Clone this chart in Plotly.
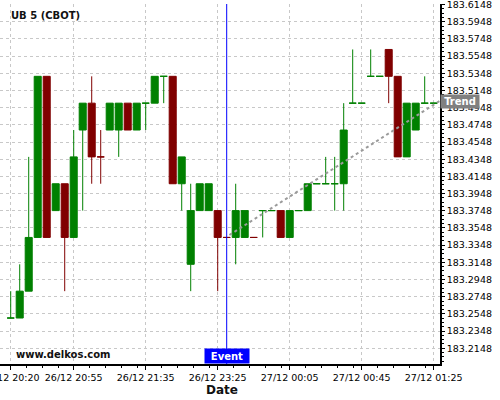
import plotly.graph_objects as go

# ---------------- data ----------------
candle_idx = list(range(48))
opens = [183.25, 183.25, 183.28125, 183.34375, 183.53125, 183.375, 183.40625, 183.34375,
         183.46875, 183.5, 183.4375, 183.46875, 183.46875, 183.5, 183.46875, 183.5,
         183.5, 183.53125, 183.53125, 183.40625, 183.3125, 183.375, 183.375, 183.375,
         183.34375, 183.34375, 183.34375, 183.34375, 183.375, 183.375, 183.375, 183.34375,
         183.375, 183.375, 183.40625, 183.40625, 183.40625, 183.40625, 183.5, 183.5,
         183.53125, 183.53125, 183.5625, 183.53125, 183.4375, 183.46875, 183.5, 183.5]
highs = [183.28125, 183.3125, 183.4375, 183.53125, 183.53125, 183.40625, 183.40625, 183.46875,
         183.5, 183.53125, 183.46875, 183.5, 183.5, 183.5, 183.5, 183.5,
         183.53125, 183.53125, 183.53125, 183.4375, 183.40625, 183.40625, 183.40625, 183.375,
         183.34375, 183.40625, 183.375, 183.34375, 183.375, 183.375, 183.375, 183.375,
         183.375, 183.40625, 183.40625, 183.4375, 183.4375, 183.5, 183.5625, 183.5,
         183.5625, 183.53125, 183.5625, 183.53125, 183.5, 183.5, 183.53125, 183.5]
lows = [183.25, 183.25, 183.28125, 183.34375, 183.34375, 183.375, 183.28125, 183.34375,
        183.375, 183.40625, 183.40625, 183.46875, 183.4375, 183.46875, 183.46875, 183.46875,
        183.5, 183.5, 183.40625, 183.375, 183.28125, 183.375, 183.375, 183.28125,
        183.34375, 183.3125, 183.34375, 183.34375, 183.34375, 183.375, 183.34375, 183.34375,
        183.375, 183.375, 183.40625, 183.40625, 183.375, 183.375, 183.5, 183.5,
        183.53125, 183.53125, 183.5, 183.4375, 183.4375, 183.46875, 183.5, 183.5]
closes = [183.25, 183.28125, 183.34375, 183.53125, 183.34375, 183.40625, 183.34375, 183.4375,
          183.5, 183.4375, 183.4375, 183.5, 183.5, 183.46875, 183.5, 183.5,
          183.53125, 183.53125, 183.40625, 183.4375, 183.375, 183.40625, 183.40625, 183.34375,
          183.34375, 183.375, 183.375, 183.34375, 183.375, 183.375, 183.34375, 183.375,
          183.375, 183.40625, 183.40625, 183.40625, 183.40625, 183.46875, 183.5, 183.5,
          183.53125, 183.53125, 183.53125, 183.4375, 183.5, 183.5, 183.5, 183.5]

x_tick_idx = [0, 7, 15, 23, 31, 39, 47]
x_tick_text = ["26/12 20:20", "26/12 20:55", "26/12 21:35", "26/12 23:25",
               "27/12 00:05", "27/12 00:45", "27/12 01:25"]

y_tick_vals = [183.2148, 183.2348, 183.2548, 183.2748, 183.2948, 183.3148, 183.3348,
               183.3548, 183.3748, 183.3948, 183.4148, 183.4348, 183.4548, 183.4748,
               183.4948, 183.5148, 183.5348, 183.5548, 183.5748, 183.5948, 183.6148]
y_tick_text = ["183.2148", "183.2348", "183.2548", "183.2748", "183.2948", "183.3148",
               "183.3348", "183.3548", "183.3748", "183.3948", "183.4148", "183.4348",
               "183.4548", "183.4748", "183.4948", "183.5148", "183.5348", "183.5548",
               "183.5748", "183.5948", "183.6148"]

event_idx = 24
trend_x = [24.3, 47.8]
trend_y = [183.3466, 183.5035]
trend_label_y = 183.5014

title_text = "UB 5 (CBOT)"
watermark = "www.delkos.com"
x_title = "Date"

# ---------------- styling ----------------
GREEN = "#008000"
RED = "#800000"
FONT = "DejaVu Sans"
GRID = "#c8c8c8"

# minor x ticks every 16 px (16/9 candle units) after each major tick
minor_x = []
for a, b in zip(x_tick_idx[:-1], x_tick_idx[1:]):
    k = 1
    while a + k * 16 / 9 < b - 0.3:
        minor_x.append(a + k * 16 / 9)
        k += 1

fig = go.Figure()

fig.add_trace(go.Candlestick(
    x=candle_idx, open=opens, high=highs, low=lows, close=closes,
    increasing=dict(line=dict(color=GREEN, width=1), fillcolor=GREEN),
    decreasing=dict(line=dict(color=RED, width=1), fillcolor=RED),
    whiskerwidth=0, hoverinfo="skip", showlegend=False,
))

fig.add_trace(go.Scatter(
    x=trend_x, y=trend_y, mode="lines",
    line=dict(color="#9a9a9a", width=2, dash="dot"),
    hoverinfo="skip", showlegend=False,
))

fig.add_shape(type="line", xref="x", yref="paper", x0=event_idx, x1=event_idx,
              y0=0, y1=1, line=dict(color="#0000ff", width=1))

fig.add_annotation(x=event_idx, xref="x", y=0, yref="paper", yanchor="bottom",
                   text="<b>Event</b>", showarrow=False, bgcolor="#0000ff",
                   font=dict(family=FONT, size=10, color="white"),
                   width=44, height=14, borderpad=0)

fig.add_annotation(x=1, xref="paper", xanchor="left", y=trend_label_y, yref="y",
                   yanchor="middle", text="<b>Trend</b>", showarrow=False,
                   bgcolor="#808080", font=dict(family=FONT, size=10, color="white"),
                   width=38, height=13, borderpad=0)

fig.add_annotation(x=0, xref="paper", xanchor="left", xshift=10,
                   y=1, yref="paper", yanchor="middle", yshift=-11.5,
                   text="<b>" + title_text + "</b>", showarrow=False, borderpad=0,
                   font=dict(family=FONT, size=10, color="#111111"))

fig.add_annotation(x=0, xref="paper", xanchor="left", xshift=15,
                   y=0, yref="paper", yanchor="middle", yshift=10,
                   text="<b>" + watermark + "</b>", showarrow=False, borderpad=0,
                   font=dict(family=FONT, size=10, color="#111111"))

fig.add_annotation(x=0.505, xref="paper", xanchor="center",
                   y=0, yref="paper", yanchor="middle", yshift=-26,
                   text="<b>" + x_title + "</b>", showarrow=False, borderpad=0,
                   font=dict(family=FONT, size=12, color="#111111"))

fig.update_layout(
    width=500, height=400,
    margin=dict(l=0, r=60, t=4, b=36, autoexpand=False),
    paper_bgcolor="white", plot_bgcolor="white",
    boxgap=0.22, boxgroupgap=0,
    font=dict(family=FONT, size=10, color="black"),
    showlegend=False,
)

fig.update_xaxes(
    range=[-1.19, 47.7], rangeslider_visible=False, automargin=False,
    tickmode="array", tickvals=x_tick_idx, ticktext=x_tick_text,
    ticks="outside", ticklen=4, tickcolor="black", ticklabeloverflow="allow",
    tickfont=dict(family=FONT, size=9.5, color="black"),
    showline=True, linecolor="black", linewidth=1.5,
    showgrid=True, gridcolor=GRID, griddash="3px,3px", gridwidth=1,
    zeroline=False,
    minor=dict(tickmode="array", tickvals=minor_x, ticks="outside", ticklen=2,
               tickcolor="black", showgrid=False),
)

fig.update_yaxes(
    side="right", range=[183.1965, 183.6154], automargin=False,
    tickmode="array", tickvals=y_tick_vals, ticktext=y_tick_text,
    ticks="outside", ticklen=3, tickcolor="black", ticklabeloverflow="allow",
    tickfont=dict(family=FONT, size=9.5, color="black"),
    showline=True, linecolor="black", linewidth=1.5,
    showgrid=True, gridcolor=GRID, griddash="3px,3px", gridwidth=1,
    zeroline=False,
    minor=dict(tickmode="linear", tick0=183.2148, dtick=0.005, ticks="outside",
               ticklen=2, tickcolor="black", showgrid=False),
)

fig.write_html(
    "out.html",
    config={"displayModeBar": False},
    post_script=["document.body.style.margin='0';document.body.style.overflow='hidden';"],
)
